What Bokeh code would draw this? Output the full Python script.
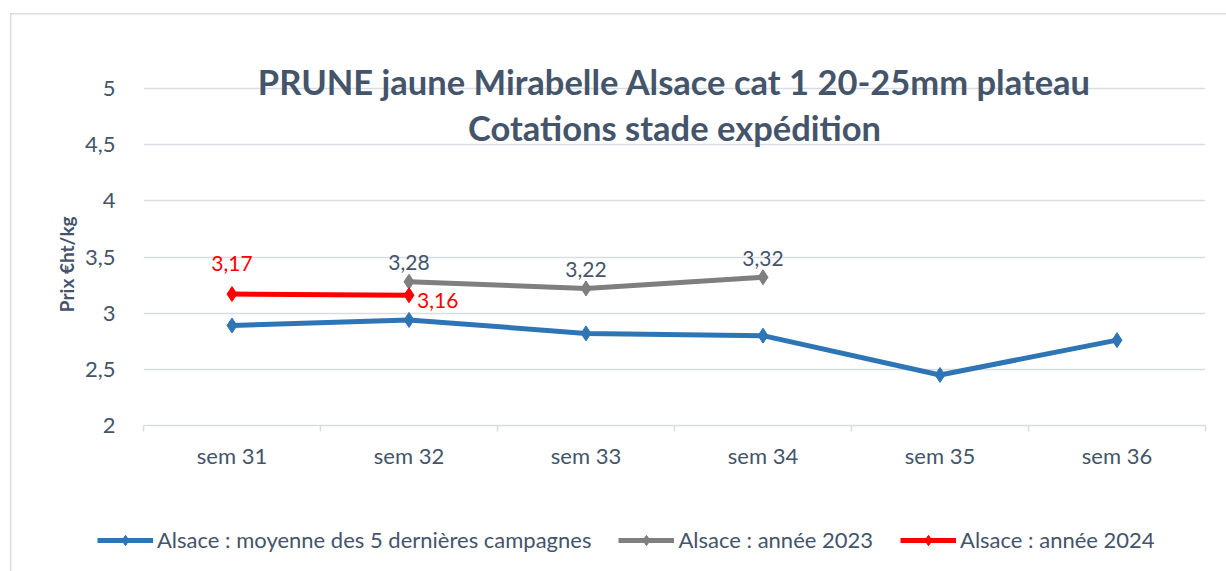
from bokeh.plotting import figure
from bokeh.layouts import column
from bokeh.models import (FixedTicker, Legend, LegendItem, Label, ColumnDataSource, Range1d)
from bokeh.core.properties import value
from bokeh.embed import file_html
from bokeh.resources import INLINE

categories = ["sem 31", "sem 32", "sem 33", "sem 34", "sem 35", "sem 36"]
moyenne_5 = [2.89, 2.94, 2.82, 2.80, 2.45, 2.76]
annee_2023_weeks = ["sem 32", "sem 33", "sem 34"]
annee_2023 = [3.28, 3.22, 3.32]
annee_2024_weeks = ["sem 31", "sem 32"]
annee_2024 = [3.17, 3.16]
y_ticks = [2, 2.5, 3, 3.5, 4, 4.5, 5]
series_names = ["Alsace : moyenne des 5 dernières campagnes",
                "Alsace : année 2023", "Alsace : année 2024"]

FONT = "Lato"
TXT = "#44546A"
GRID = "#D9DDE3"
BLUE = "#2E75B6"
GREY = "#7F7F7F"
RED = "#FF0000"

def xpos(weeks):
    return [categories.index(w) + 0.5 for w in weeks]

def fmt(v):
    return f"{v:.2f}".replace(".", ",")

p = figure(width=1226, height=500, output_backend="svg", toolbar_location=None,
           x_range=Range1d(0, len(categories)), y_range=Range1d(2, 5.294),
           min_border_left=143, min_border_right=21, min_border_top=55, min_border_bottom=75)
p.frame_align = False
p.outline_line_color = None
p.background_fill_color = "white"
p.border_fill_alpha = 0

# axes
p.xaxis.ticker = FixedTicker(ticks=[i + 0.5 for i in range(len(categories))],
                             minor_ticks=list(range(len(categories) + 1)))
p.xaxis.major_label_overrides = {i + 0.5: c for i, c in enumerate(categories)}
p.xaxis.major_tick_line_color = None
p.xaxis.minor_tick_line_color = GRID
p.xaxis.minor_tick_out = 6
p.xaxis.minor_tick_in = 0
p.xaxis.minor_tick_line_width = 1.5
p.xaxis.axis_line_color = GRID
p.xaxis.axis_line_width = 1.5
p.xaxis.major_label_text_font = FONT
p.xaxis.major_label_text_font_size = "22px"
p.xaxis.major_label_text_color = TXT
p.xaxis.major_label_standoff = 10
p.xgrid.grid_line_color = None

p.yaxis.ticker = FixedTicker(ticks=y_ticks)
p.yaxis.major_label_overrides = {t: (f"{t:g}").replace(".", ",") for t in y_ticks}
p.yaxis.axis_line_color = None
p.yaxis.major_tick_line_color = None
p.yaxis.minor_tick_line_color = None
p.yaxis.major_label_text_font = FONT
p.yaxis.major_label_text_font_size = "22px"
p.yaxis.major_label_text_color = TXT
p.yaxis.major_label_standoff = 22
p.yaxis.axis_label = "Prix €ht/kg" + "\u2002" * 5
p.yaxis.axis_label_text_font = FONT
p.yaxis.axis_label_text_font_size = "19px"
p.yaxis.axis_label_text_font_style = "bold"
p.yaxis.axis_label_text_color = TXT
p.yaxis.axis_label_standoff = 4
p.ygrid.grid_line_color = GRID
p.ygrid.grid_line_width = 1.5

# series
r1l = p.line(xpos(categories), moyenne_5, line_color=BLUE, line_width=5)
r1m = p.scatter(xpos(categories), moyenne_5, marker="diamond", size=15, color=BLUE)
r2l = p.line(xpos(annee_2023_weeks), annee_2023, line_color=GREY, line_width=5)
r2m = p.scatter(xpos(annee_2023_weeks), annee_2023, marker="diamond", size=15, color=GREY)
r3l = p.line(xpos(annee_2024_weeks), annee_2024, line_color=RED, line_width=5)
r3m = p.scatter(xpos(annee_2024_weeks), annee_2024, marker="diamond", size=15, color=RED)

# data labels
src23 = ColumnDataSource(dict(x=xpos(annee_2023_weeks), y=annee_2023, t=[fmt(v) for v in annee_2023]))
p.text("x", "y", text="t", source=src23, text_font=value(FONT), text_font_size="21px",
       text_color=TXT, text_align="center", text_baseline="middle", y_offset=-19)
p.text([xpos(annee_2024_weeks)[0]], [annee_2024[0]], text=[fmt(annee_2024[0])],
       text_font=value(FONT), text_font_size="21px", text_color=RED,
       text_align="center", text_baseline="middle", y_offset=-31)
p.text([xpos(annee_2024_weeks)[1]], [annee_2024[1]], text=[fmt(annee_2024[1])],
       text_font=value(FONT), text_font_size="21px", text_color=RED,
       text_align="left", text_baseline="middle", x_offset=8, y_offset=5)

# title
for txt, yv in [("PRUNE jaune Mirabelle Alsace cat 1 20-25mm plateau", 5.066),
                ("Cotations stade expédition", 4.653)]:
    p.add_layout(Label(x=3, y=yv, text=txt, text_align="center", text_baseline="middle",
                       text_font=FONT, text_font_size="34.5px", text_font_style="bold",
                       text_color=TXT))

# legend strip (separate figure so the legend is not clipped)
q = figure(width=1226, height=71, output_backend="svg", toolbar_location=None,
           x_range=Range1d(100, 101), y_range=Range1d(100, 101),
           x_axis_location=None, y_axis_location=None,
           min_border_left=0, min_border_right=0, min_border_top=0, min_border_bottom=0)
q.frame_align = False
q.outline_line_color = None
q.background_fill_alpha = 0
q.border_fill_alpha = 0
q.grid.visible = False
items = []
for name, weeks, vals, col in [(series_names[0], categories, moyenne_5, BLUE),
                               (series_names[1], annee_2023_weeks, annee_2023, GREY),
                               (series_names[2], annee_2024_weeks, annee_2024, RED)]:
    ll = q.line(xpos(weeks), vals, line_color=col, line_width=5)
    mm = q.scatter(xpos(weeks), vals, marker="diamond", size=15, color=col)
    items.append(LegendItem(label=name, renderers=[ll, mm]))

legend = Legend(items=items, orientation="horizontal", location=(97, 18),
                glyph_width=56, glyph_height=26, label_height=26,
                label_standoff=4, spacing=27, padding=0, margin=0,
                label_text_font=FONT, label_text_font_size="22px", label_text_color=TXT,
                border_line_color=None, background_fill_alpha=0)
q.add_layout(legend)

bg = ("linear-gradient(#D9DDE3,#D9DDE3) 10px 13px / 1.5px 100% no-repeat, "
      "linear-gradient(#D9DDE3,#D9DDE3) 10px 13px / 100% 1.5px no-repeat, white")
layout = column(p, q, spacing=0, styles={"background": bg})

open("out.html", "w").write(file_html(layout, INLINE))
